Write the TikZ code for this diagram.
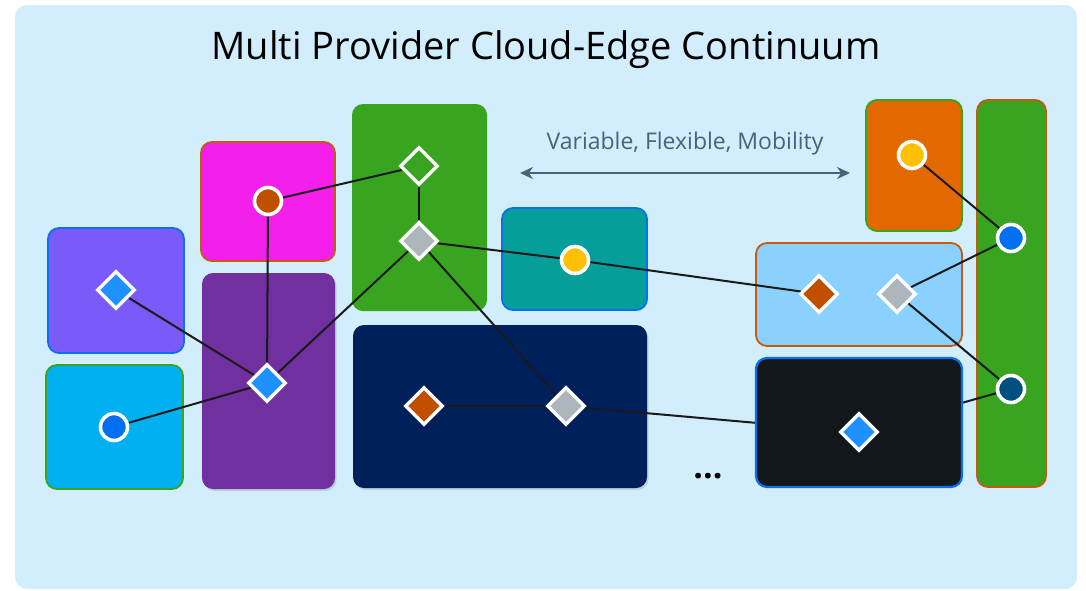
\documentclass[tikz,border=0pt]{standalone}
\usepackage{fontspec}
\setmainfont{Open Sans}
\usetikzlibrary{shapes.geometric,arrows.meta,shadows}
\definecolor{bgblue}{HTML}{D2EEFD}
\definecolor{cmagenta}{HTML}{F41FEA}
\definecolor{cbrown}{HTML}{C55A11}
\definecolor{cviolet}{HTML}{7A5AF8}
\definecolor{cblueb}{HTML}{0A70F0}
\definecolor{ccyan}{HTML}{00B0F0}
\definecolor{cgreen}{HTML}{38A420}
\definecolor{cdpurple}{HTML}{7030A0}
\definecolor{cteal}{HTML}{069E9A}
\definecolor{cnavy}{HTML}{00205C}
\definecolor{corange}{HTML}{E46800}
\definecolor{clight}{HTML}{8AD1FF}
\definecolor{cblack}{HTML}{13181D}
\definecolor{cyellow}{HTML}{FFC000}
\definecolor{ccircblue}{HTML}{0070F0}
\definecolor{cdarkcirc}{HTML}{00507F}
\definecolor{cgray}{HTML}{ADB5BD}
\definecolor{cdiablue}{HTML}{1E90FF}
\definecolor{cdiaor}{HTML}{C05000}
\definecolor{cslate}{HTML}{4D6079}
\definecolor{cline}{HTML}{1A1A1A}
\pgfdeclarelayer{bg}
\pgfdeclarelayer{mid}
\pgfdeclarelayer{fg}
\pgfsetlayers{bg,main,mid,fg}
\tikzset{
  box/.style={rounded corners=11pt, line width=1.8pt},
  shbox/.style={box, drop shadow={opacity=0.25, shadow xshift=1.5pt, shadow yshift=-2pt}},
  dmark/.style={diamond, draw=white, line width=3.4pt, minimum width=38pt, minimum height=38pt, inner sep=0pt},
  cmark/.style={circle, draw=white, line width=3.6pt, minimum size=27pt, inner sep=0pt},
  link/.style={draw=cline, line width=2pt},
}
\begin{document}
\begin{tikzpicture}[x=1pt,y=-1pt]
\useasboundingbox (0,0) rectangle (1086,590);
\begin{pgfonlayer}{bg}
\fill[bgblue, rounded corners=12pt] (15,5) rectangle (1077,589);
% boxes
\draw[box, fill=cmagenta, draw=cbrown] (201,142) rectangle (335,261);
\draw[box, fill=cviolet, draw=cblueb] (48,228) rectangle (184,353);
\draw[box, fill=ccyan, draw=cgreen] (46,365) rectangle (183,489);
\fill[shbox, fill=cdpurple] (202,273) rectangle (335,489);
\fill[box, fill=cgreen] (352,104) rectangle (487,311);
\draw[box, fill=cteal, draw=cblueb] (502,208) rectangle (647,310);
\fill[shbox, fill=cnavy] (353,325) rectangle (647,488);
\draw[box, fill=corange, draw=cgreen] (866,100) rectangle (962,231);
\draw[box, fill=cgreen, draw=cbrown] (977,100) rectangle (1046,487);
\draw[box, fill=clight, draw=cbrown] (756,243) rectangle (962,346);
\end{pgfonlayer}
\begin{pgfonlayer}{mid}
\draw[box, fill=cblack, draw=cblueb, line width=2.2pt] (756,358) rectangle (962,487);
\end{pgfonlayer}
\begin{pgfonlayer}{fg}
\node[cmark, fill=cdiaor] (c1) at (268,201) {};
\node[dmark, fill=cdiablue] (d1) at (116,290) {};
\node[cmark, fill=ccircblue] (c2) at (114,427) {};
\node[dmark, fill=cdiablue] (d2) at (267,383) {};
\node[dmark] (d3) at (419,166) {};
\node[dmark, fill=cgray] (d4) at (419,241) {};
\node[cmark, fill=cyellow] (c3) at (575,260) {};
\node[dmark, fill=cdiaor] (d5) at (424,406) {};
\node[dmark, fill=cgray] (d6) at (566,406) {};
\node[cmark, fill=cyellow] (c4) at (912,155) {};
\node[cmark, fill=ccircblue] (c5) at (1011,238) {};
\node[cmark, fill=cdarkcirc] (c6) at (1011,389) {};
\node[dmark, fill=cdiaor] (d7) at (819,294) {};
\node[dmark, fill=cgray] (d8) at (897,294) {};
\node[dmark, fill=cdiablue] (d9) at (859,432) {};
\end{pgfonlayer}
% links
\path[link] (c1) -- (d3);
\path[link] (c1) -- (d2);
\path[link] (d1) -- (d2);
\path[link] (c2) -- (d2);
\path[link] (d2) -- (d4);
\path[link] (d3) -- (d4);
\path[link] (d4) -- (c3);
\path[link] (d4) -- (d6);
\path[link] (c3) -- (d7);
\path[link] (d5) -- (d6);
\path[link] (d6) -- (d9);
\path[link] (d9) -- (c6);
\path[link] (d8) -- (c5);
\path[link] (d8) -- (c6);
\path[link] (c4) -- (c5);
% title and arrow
\node[font=\fontsize{38}{44}\selectfont, text=black] (title) at (546,50) {Multi Provider Cloud-Edge Continuum};
\node[font=\fontsize{23}{27}\selectfont, text=cslate] (lab) at (685,144) {Variable, Flexible, Mobility};
\coordinate (al) at (520,173);
\coordinate (ar) at (850,173);
\draw[cslate, line width=2pt, {Stealth[length=13pt,width=12pt]}-{Stealth[length=13pt,width=12pt]}] (al) -- (ar);
\node[font=\fontsize{34}{36}\selectfont\bfseries] (dots) at (708,476) {...};
\end{tikzpicture}
\end{document}
